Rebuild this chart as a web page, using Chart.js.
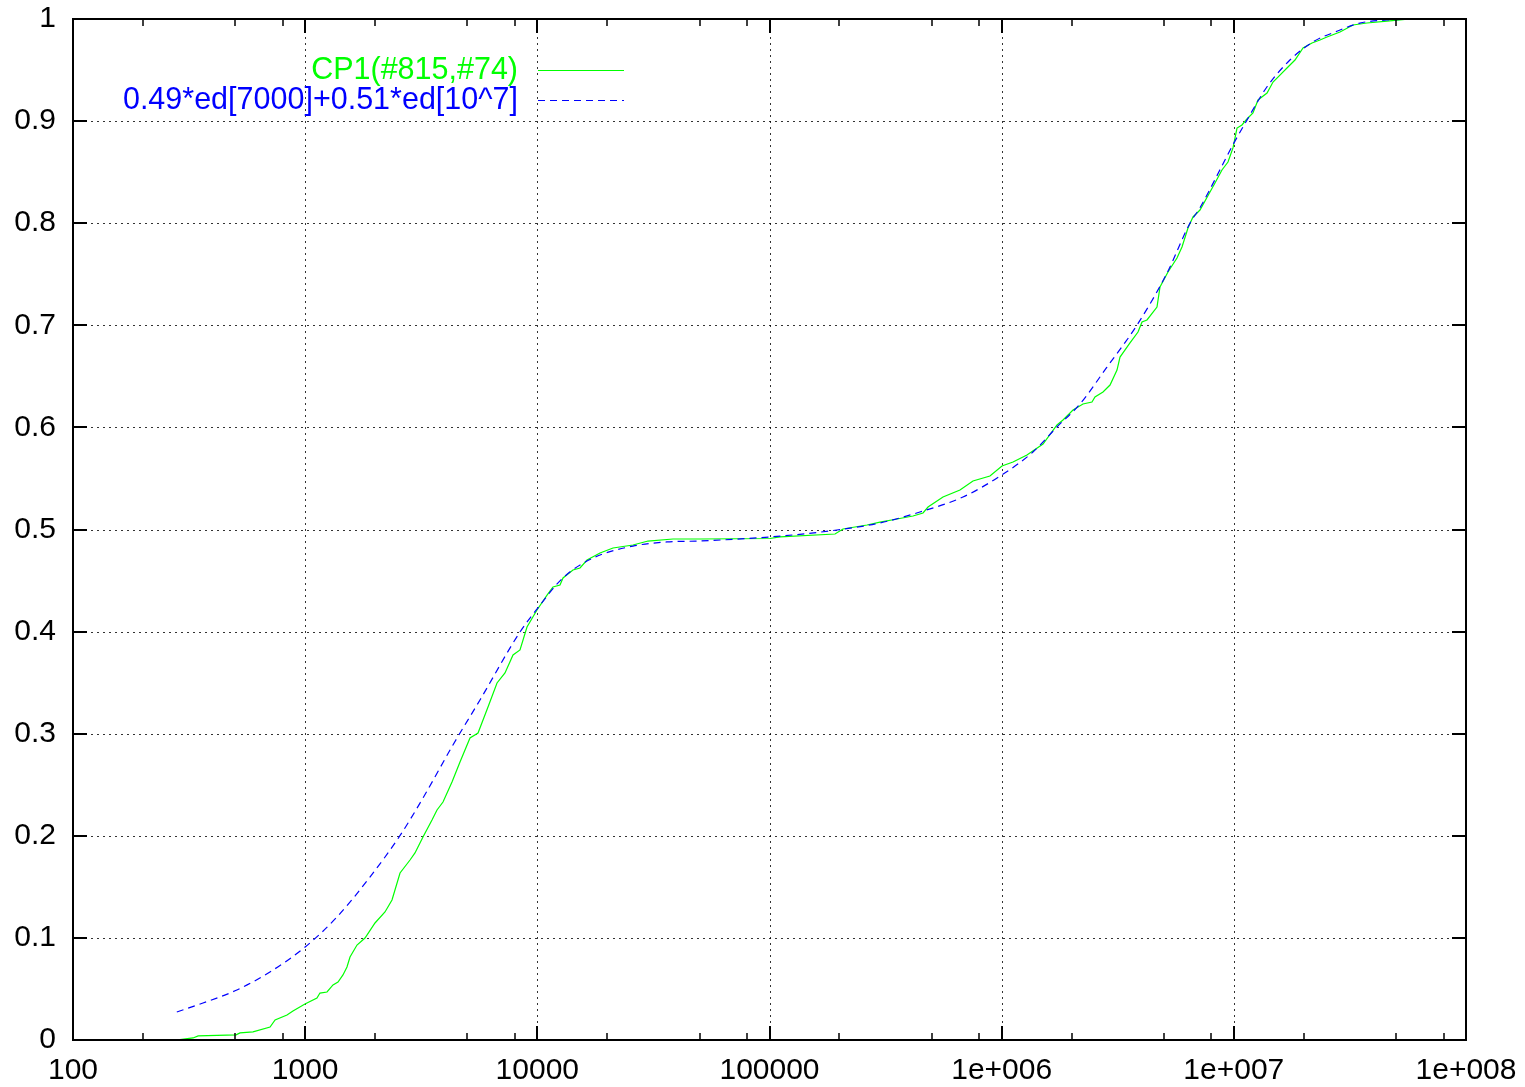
<!DOCTYPE html>
<html>
<head>
<meta charset="utf-8">
<title>CP1 cumulative distribution</title>
<script src="https://cdn.jsdelivr.net/npm/chart.js@4.4.0/dist/chart.umd.min.js"></script>
<style>
  html, body { margin: 0; padding: 0; background: #ffffff; }
  #wrap { width: 1525px; height: 1087px; }
</style>
</head>
<body>
<div id="wrap"><canvas id="c" width="1525" height="1087"></canvas></div>
<script>
// Empirical CDF of CP1 (#815, #74)
const cp1X = [278, 329, 346, 504, 524, 596, 706, 742, 835, 886, 998, 1124, 1158, 1242, 1318, 1385, 1455, 1514, 1560, 1672,
  1810, 1999, 2207, 2366, 2562, 2829, 2972, 3217, 3518, 3697, 3924, 4290, 4644, 5128, 5553, 6131, 6704, 7256, 7858, 8421,
  9026, 9966, 11010, 11680, 12520, 12900, 14240, 15270, 16370, 18620, 21180, 25830, 29970, 38400, 50190, 100500, 111000, 191500, 207300, 263000,
  299200, 354100, 415000, 458400, 481700, 558800, 661400, 752200, 890200, 1003000, 1119000, 1285000, 1507000, 1731000, 1837000, 2029000, 2240000, 2449000, 2523000, 2732000,
  2929000, 3139000, 3234000, 3570000, 3866000, 4022000, 4226000, 4667000, 4808000, 5204000, 5690000, 5980000, 6346000, 6669000, 7148000, 7894000, 8295000, 8889000, 9437000, 9916000,
  10320000, 10840000, 11390000, 12090000, 12710000, 13900000, 14750000, 15800000, 16940000, 18340000, 19860000, 21710000, 23500000, 25190000, 28660000, 32610000, 37460000, 45670000, 57380000];
const cp1Y = [0, 0.002, 0.004, 0.005, 0.007, 0.008, 0.0127, 0.0196, 0.0245, 0.0284, 0.0353, 0.0411, 0.046, 0.047, 0.0539, 0.0568, 0.0637, 0.0715, 0.0813, 0.093,
  0.0999, 0.1146, 0.1254, 0.1371, 0.1636, 0.1763, 0.1832, 0.1988, 0.2155, 0.2253, 0.2331, 0.2527, 0.2723, 0.2958, 0.3007, 0.3262, 0.3497, 0.3595, 0.3771, 0.382,
  0.4045, 0.4212, 0.4358, 0.4437, 0.4456, 0.4525, 0.4603, 0.4623, 0.4701, 0.477, 0.4819, 0.4848, 0.4887, 0.4907, 0.4907, 0.4912, 0.4927, 0.4956, 0.5005, 0.5044,
  0.5073, 0.5103, 0.5132, 0.5162, 0.522, 0.5318, 0.5387, 0.5475, 0.5524, 0.5622, 0.5661, 0.573, 0.5837, 0.6024, 0.6072, 0.617, 0.6229, 0.6249, 0.6298, 0.6347,
  0.6415, 0.6562, 0.6689, 0.6827, 0.6934, 0.7032, 0.7052, 0.7179, 0.7375, 0.7522, 0.7659, 0.7767, 0.7953, 0.8061, 0.8129, 0.8305, 0.8394, 0.8521, 0.8599, 0.8737,
  0.8932, 0.8962, 0.9021, 0.9079, 0.9207, 0.9275, 0.9383, 0.9451, 0.952, 0.9598, 0.9716, 0.9765, 0.9794, 0.9824, 0.9873, 0.9941, 0.9961, 0.998, 1.0];

// Mixture model 0.49*ed[7000] + 0.51*ed[10^7]
const fitX = [280, 363, 508, 705, 1000, 1371, 1901, 2560, 3217, 4331, 5662, 8417, 9960, 12880, 17370, 25820, 36140, 48690, 100500, 195000,
  299000, 444600, 681000, 1001000, 1364000, 1730000, 2174000, 2840000, 3830000, 5150000, 6470000, 7140000, 9900000, 11390000, 13880000, 17440000,
  21900000, 27800000, 34900000, 45600000, 57300000];
const fitY = [0.0274, 0.0362, 0.049, 0.0666, 0.0911, 0.1205, 0.1596, 0.2001, 0.237, 0.289, 0.333, 0.3996, 0.422, 0.4525, 0.472, 0.4838, 0.4878, 0.4887, 0.4927, 0.4995,
  0.5064, 0.5171, 0.5318, 0.5534, 0.5759, 0.6004, 0.6229, 0.659, 0.7003, 0.751, 0.800, 0.815, 0.8766, 0.901, 0.9334, 0.9598,
  0.9775, 0.988, 0.996, 0.999, 1.0];

const seriesLabels = ['CP1(#815,#74)', '0.49*ed[7000]+0.51*ed[10^7]'];

const xTickValues = [100, 1000, 10000, 100000, 1000000, 10000000, 100000000];
const xTickLabels = ['100', '1000', '10000', '100000', '1e+006', '1e+007', '1e+008'];
const xMinorMultipliers = [2, 5, 8];
const yTickValues = [0, 0.1, 0.2, 0.3, 0.4, 0.5, 0.6, 0.7, 0.8, 0.9, 1];
const yTickLabels = ['0', '0.1', '0.2', '0.3', '0.4', '0.5', '0.6', '0.7', '0.8', '0.9', '1'];

const FONT_FAMILY = '"Liberation Sans", Arial, Helvetica, sans-serif';
const GREEN = '#00ff00';
const BLUE = '#0000ff';
const BLUE_DASH = [7, 5];

function pairs(xs, ys) {
  return xs.map((x, i) => ({ x: x, y: ys[i] }));
}

// Dotted grid behind the curves; frame, inward ticks and key on top.
const framePlugin = {
  id: 'gnuplotFrame',
  beforeDatasetsDraw(chart) {
    const { ctx, chartArea: a, scales } = chart;
    ctx.save();
    ctx.strokeStyle = 'rgba(0,0,0,0.8)';
    ctx.lineWidth = 1;
    ctx.setLineDash([2, 4]);
    xTickValues.forEach(v => {
      const px = Math.round(scales.x.getPixelForValue(v)) + 0.5;
      if (px - a.left < 3 || a.right - px < 3) return;
      ctx.beginPath();
      ctx.moveTo(px, a.top);
      ctx.lineTo(px, a.bottom);
      ctx.stroke();
    });
    yTickValues.forEach(v => {
      const py = Math.round(scales.y.getPixelForValue(v)) + 0.5;
      if (py - a.top < 3 || a.bottom - py < 3) return;
      ctx.beginPath();
      ctx.moveTo(a.left, py);
      ctx.lineTo(a.right, py);
      ctx.stroke();
    });
    ctx.restore();
  },
  afterDatasetsDraw(chart) {
    const { ctx, chartArea: a, scales } = chart;
    ctx.save();
    ctx.setLineDash([]);
    ctx.strokeStyle = '#000000';
    ctx.lineWidth = 2;
    ctx.strokeRect(a.left, a.top, a.right - a.left, a.bottom - a.top);

    const MAJOR = 14, MINOR = 7;
    ctx.lineWidth = 2;
    const vTick = (v, len) => {
      const px = Math.round(scales.x.getPixelForValue(v));
      ctx.beginPath();
      ctx.moveTo(px, a.bottom); ctx.lineTo(px, a.bottom - len);
      ctx.moveTo(px, a.top); ctx.lineTo(px, a.top + len);
      ctx.stroke();
    };
    xTickValues.forEach(v => vTick(v, MAJOR));
    ctx.lineWidth = 1.5;
    xTickValues.slice(0, -1).forEach(d => {
      xMinorMultipliers.forEach(m => vTick(d * m, MINOR));
    });
    ctx.lineWidth = 2;
    yTickValues.forEach(v => {
      const py = Math.round(scales.y.getPixelForValue(v));
      ctx.beginPath();
      ctx.moveTo(a.left, py); ctx.lineTo(a.left + MAJOR, py);
      ctx.moveTo(a.right, py); ctx.lineTo(a.right - MAJOR, py);
      ctx.stroke();
    });

    // key
    ctx.font = '30.5px ' + FONT_FAMILY;
    ctx.textAlign = 'right';
    ctx.textBaseline = 'middle';
    const keyTextX = 518, keyLineX0 = 538, keyLineX1 = 624;
    const keyRows = [
      { y: 70, color: GREEN, dash: [] },
      { y: 100, color: BLUE, dash: BLUE_DASH }
    ];
    keyRows.forEach((row, i) => {
      ctx.fillStyle = row.color;
      ctx.fillText(seriesLabels[i], keyTextX, row.y + 1);
      ctx.strokeStyle = row.color;
      ctx.lineWidth = 1;
      ctx.setLineDash(row.dash);
      ctx.beginPath();
      ctx.moveTo(keyLineX0, row.y + 0.5);
      ctx.lineTo(keyLineX1, row.y + 0.5);
      ctx.stroke();
    });
    ctx.restore();
  }
};

new Chart(document.getElementById('c'), {
  type: 'line',
  data: {
    datasets: [
      {
        label: seriesLabels[0],
        data: pairs(cp1X, cp1Y),
        borderColor: GREEN,
        borderWidth: 1.2,
        pointRadius: 0,
        tension: 0,
        fill: false,
        order: 2
      },
      {
        label: seriesLabels[1],
        data: pairs(fitX, fitY),
        borderColor: BLUE,
        borderWidth: 1.2,
        borderDash: BLUE_DASH,
        pointRadius: 0,
        cubicInterpolationMode: 'monotone',
        fill: false,
        order: 1
      }
    ]
  },
  options: {
    responsive: false,
    animation: false,
    events: [],
    layout: { padding: { top: 19, right: 59, left: 0, bottom: 0 } },
    plugins: {
      legend: { display: false },
      tooltip: { enabled: false }
    },
    scales: {
      x: {
        type: 'logarithmic',
        min: 100,
        max: 100000000,
        afterBuildTicks: s => { s.ticks = xTickValues.map(v => ({ value: v, major: true })); },
        afterFit: s => { s.height = 47; s.paddingLeft = 0; s.paddingRight = 0; },
        grid: { display: false, drawTicks: false },
        border: { display: false },
        ticks: {
          autoSkip: false,
          maxRotation: 0,
          minRotation: 0,
          padding: 13,
          color: '#000000',
          font: { family: FONT_FAMILY, size: 30 },
          callback: (v, i) => xTickLabels[i]
        }
      },
      y: {
        type: 'linear',
        min: 0,
        max: 1,
        afterBuildTicks: s => { s.ticks = yTickValues.map(v => ({ value: v })); },
        afterFit: s => { s.width = 73; s.paddingTop = 0; s.paddingBottom = 0; },
        grid: { display: false, drawTicks: false },
        border: { display: false },
        ticks: {
          autoSkip: false,
          padding: 17,
          color: '#000000',
          font: { family: FONT_FAMILY, size: 30 },
          callback: (v, i) => yTickLabels[i]
        }
      }
    }
  },
  plugins: [framePlugin]
});
</script>
</body>
</html>
